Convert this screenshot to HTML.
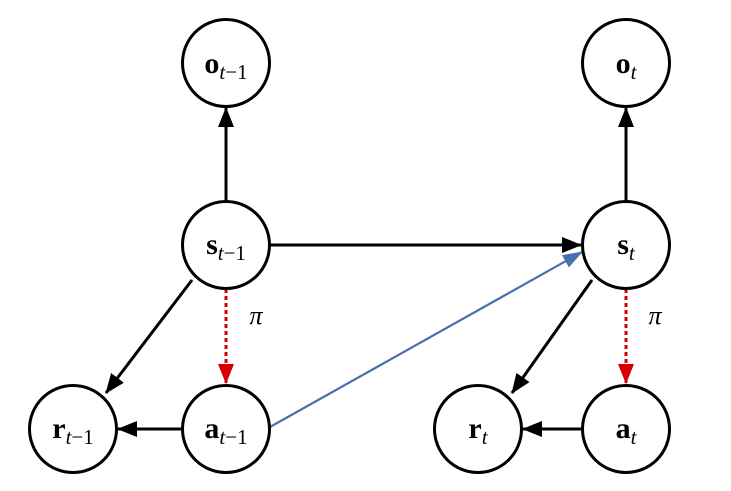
<!DOCTYPE html>
<html><head><style>
body{margin:0;background:#fff;width:731px;height:486px;overflow:hidden}
</style></head><body>
<svg width="731" height="486" viewBox="0 0 731 486" xmlns="http://www.w3.org/2000/svg">
<defs>
<marker id="ab" markerWidth="10" markerHeight="10" refX="9" refY="5" orient="auto" markerUnits="userSpaceOnUse" viewBox="0 0 10 10">
<path d="M0,0 L10,5 L0,10 z" fill="#000"/></marker>
<marker id="abig" markerWidth="20" markerHeight="16" refX="19" refY="8" orient="auto" markerUnits="userSpaceOnUse">
<path d="M0,0 L20,8 L0,16 z" fill="#000"/></marker>
<marker id="ar" markerWidth="20" markerHeight="16" refX="19" refY="8" orient="auto" markerUnits="userSpaceOnUse">
<path d="M0,0 L20,8 L0,16 z" fill="#d40000"/></marker>
<marker id="abl" markerWidth="20" markerHeight="14" refX="19" refY="7" orient="auto" markerUnits="userSpaceOnUse">
<path d="M0,0 L20,7 L0,14 z" fill="#4a6fb0"/></marker>
</defs>
<g stroke="#000" stroke-width="3" fill="none">
<line x1="226" y1="201" x2="226" y2="108" marker-end="url(#abig)"/>
<line x1="626" y1="201" x2="626" y2="108" marker-end="url(#abig)"/>
<line x1="270" y1="245" x2="581" y2="245" marker-end="url(#abig)"/>
<line x1="192" y1="280" x2="106" y2="393" marker-end="url(#abig)"/>
<line x1="592" y1="280" x2="512" y2="393" marker-end="url(#abig)"/>
<line x1="182" y1="429" x2="118" y2="429" marker-end="url(#abig)"/>
<line x1="582" y1="429" x2="523" y2="429" marker-end="url(#abig)"/>
</g>
<line x1="226" y1="289" x2="226" y2="383" stroke="#d40000" stroke-width="3" stroke-dasharray="4,3" marker-end="url(#ar)"/>
<line x1="626" y1="289" x2="626" y2="383" stroke="#d40000" stroke-width="3" stroke-dasharray="4,3" marker-end="url(#ar)"/>
<line x1="270" y1="427" x2="582" y2="252" stroke="#4a6fb0" stroke-width="2.2" marker-end="url(#abl)"/>
<g stroke="#000" stroke-width="3" fill="#fff">
<circle cx="226" cy="63" r="43.5"/>
<circle cx="626" cy="63" r="43.5"/>
<circle cx="226" cy="245" r="43.5"/>
<circle cx="626" cy="245" r="43.5"/>
<circle cx="73" cy="429" r="43.5"/>
<circle cx="226" cy="429" r="43.5"/>
<circle cx="478" cy="429" r="43.5"/>
<circle cx="626" cy="429" r="43.5"/>
</g>
<g font-family="Liberation Serif, serif" fill="#000" text-anchor="middle">
<text x="226" y="73" font-size="30" font-weight="bold">o<tspan font-size="21" font-weight="normal" font-style="italic" dy="6">t</tspan><tspan font-size="21" font-weight="normal" dy="0">−1</tspan></text>
<text x="626" y="73" font-size="30" font-weight="bold">o<tspan font-size="21" font-weight="normal" font-style="italic" dy="6">t</tspan></text>
<text x="226" y="254" font-size="30" font-weight="bold">s<tspan font-size="21" font-weight="normal" font-style="italic" dy="6">t</tspan><tspan font-size="21" font-weight="normal">−1</tspan></text>
<text x="626" y="254" font-size="30" font-weight="bold">s<tspan font-size="21" font-weight="normal" font-style="italic" dy="6">t</tspan></text>
<text x="73" y="438" font-size="30" font-weight="bold">r<tspan font-size="21" font-weight="normal" font-style="italic" dy="6">t</tspan><tspan font-size="21" font-weight="normal">−1</tspan></text>
<text x="226" y="438" font-size="30" font-weight="bold">a<tspan font-size="21" font-weight="normal" font-style="italic" dy="6">t</tspan><tspan font-size="21" font-weight="normal">−1</tspan></text>
<text x="478" y="438" font-size="30" font-weight="bold">r<tspan font-size="21" font-weight="normal" font-style="italic" dy="6">t</tspan></text>
<text x="626" y="438" font-size="30" font-weight="bold">a<tspan font-size="21" font-weight="normal" font-style="italic" dy="6">t</tspan></text>
<text x="256" y="324" font-size="26" font-style="italic">π</text>
<text x="655" y="324" font-size="26" font-style="italic">π</text>
</g>
</svg>
</body></html>
